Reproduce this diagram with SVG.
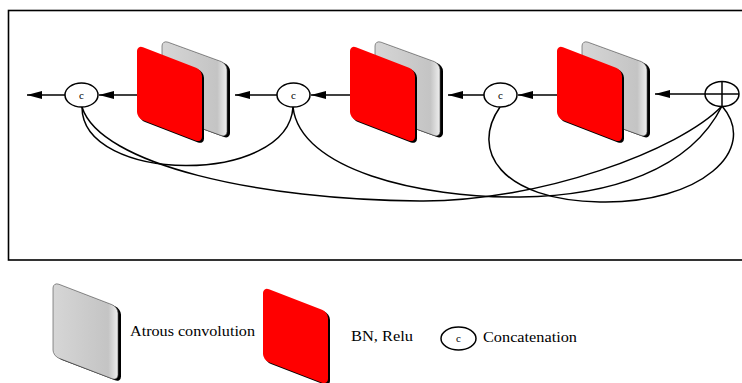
<svg xmlns="http://www.w3.org/2000/svg" width="742" height="383" viewBox="0 0 742 383">
<style>
.frame{fill:none;stroke:#000;stroke-width:1.6}
.conn{fill:none;stroke:#000;stroke-width:1.5}
.arr{fill:none;stroke:#000;stroke-width:1.5;marker-end:url(#ah)}
.node{fill:#fff;stroke:#000;stroke-width:1.5}
.red{fill:#ff0000}
.gray{fill:url(#gg)}
.shadow{fill:#000}
text{font-family:'Times New Roman','Liberation Serif','DejaVu Serif',serif;fill:#000}
</style>
<defs>
<linearGradient id="gg" x1="0" y1="0" x2="1" y2="0">
<stop offset="0" stop-color="#d6d6d6"/>
<stop offset="0.85" stop-color="#c4c4c4"/>
<stop offset="1" stop-color="#eeeeee"/>
</linearGradient>
<marker id="ah" viewBox="0 0 15 8" refX="15" refY="4" markerWidth="15" markerHeight="8" markerUnits="userSpaceOnUse" orient="auto">
<path d="M0,0 L15,4 L0,8 z" fill="#000"/>
</marker>
<g id="graySheet">
<rect class="shadow" x="3" y="0.5" width="65" height="74" rx="6"/>
<rect class="gray" x="0" y="0" width="65" height="74" rx="6" stroke="#555" stroke-width="0.6"/>
</g>
<g id="redSheet">
<rect class="shadow" x="2" y="1" width="65" height="73" rx="6"/>
<rect class="red" x="0" y="0" width="65" height="73" rx="6"/>
</g>
</defs>
<rect width="742" height="383" fill="#fff"/>
<rect class="frame" x="8.5" y="10.5" width="760" height="249.5"/>

<g id="connectors">
<line class="arr" x1="65" y1="95" x2="27" y2="95"/>
<line class="arr" x1="137" y1="95" x2="99" y2="95"/>
<line class="arr" x1="277" y1="95" x2="235" y2="95"/>
<line class="arr" x1="350" y1="95" x2="311" y2="95"/>
<line class="arr" x1="484" y1="95" x2="448" y2="95"/>
<line class="arr" x1="557" y1="95" x2="518" y2="95"/>
<line class="arr" x1="705" y1="94" x2="655" y2="94"/>
<path class="conn" d="M82,107 C82,184 288,186 293,107"/>
<path class="conn" d="M82,107 C100,165 260,200 420,201 C540,202 680,150 722,106"/>
<path class="conn" d="M293,107 C300,170 420,198 520,197 C610,196 690,170 722,106"/>
<path class="conn" d="M500,107 C470,150 500,200 600,202 C700,204 760,150 722,106"/>
</g>

<g id="block1">
<use href="#graySheet" transform="translate(162,40) skewY(20)"/>
<use href="#redSheet" transform="translate(137,45) skewY(21)"/>
</g>
<g id="block2">
<use href="#graySheet" transform="translate(375,40) skewY(20)"/>
<use href="#redSheet" transform="translate(350,45) skewY(21)"/>
</g>
<g id="block3">
<use href="#graySheet" transform="translate(582,40) skewY(20)"/>
<use href="#redSheet" transform="translate(557,45) skewY(21)"/>
</g>

<g id="concat1" font-size="11" text-anchor="middle">
<ellipse class="node" cx="81.5" cy="95" rx="16.5" ry="12"/>
<text x="81.5" y="98.5">c</text>
</g>
<g id="concat2" font-size="11" text-anchor="middle">
<ellipse class="node" cx="293.5" cy="95" rx="16.5" ry="12"/>
<text x="293.5" y="98.5">c</text>
</g>
<g id="concat3" font-size="11" text-anchor="middle">
<ellipse class="node" cx="500.5" cy="95" rx="16.5" ry="12"/>
<text x="500.5" y="98.5">c</text>
</g>
<g id="add">
<ellipse class="node" cx="722" cy="94" rx="17" ry="12.5"/>
<line class="conn" x1="705" y1="94" x2="739" y2="94"/>
<line class="conn" x1="722" y1="81.5" x2="722" y2="106.5"/>
</g>

<g id="legend-atrous" font-size="14">
<use href="#graySheet" transform="translate(53,282) skewY(21)"/>
<text x="130" y="336" textLength="125" lengthAdjust="spacingAndGlyphs">Atrous convolution</text>
</g>
<g id="legend-bn" font-size="14">
<use href="#redSheet" transform="translate(263,287) skewY(21)"/>
<text x="351" y="341" textLength="62" lengthAdjust="spacingAndGlyphs">BN, Relu</text>
</g>
<g id="legend-concat" font-size="14">
<ellipse class="node" cx="458.5" cy="338.5" rx="17.5" ry="11.5"/>
<text x="458.5" y="342" font-size="11" text-anchor="middle">c</text>
<text x="483" y="342" textLength="94" lengthAdjust="spacingAndGlyphs">Concatenation</text>
</g>
</svg>
